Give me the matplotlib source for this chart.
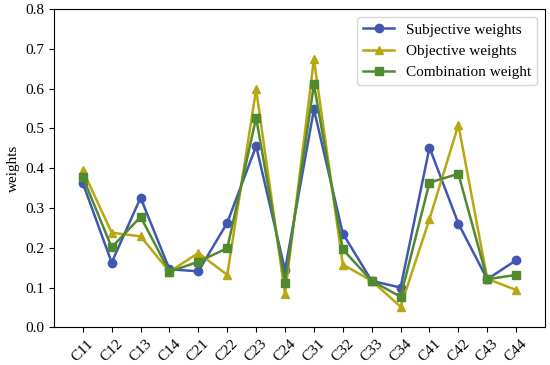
import numpy as np
import matplotlib.pyplot as plt

plt.rcParams['font.family'] = ['Liberation Serif', 'DejaVu Serif']

# indicators
labels = ['C11', 'C12', 'C13', 'C14', 'C21', 'C22', 'C23', 'C24',
          'C31', 'C32', 'C33', 'C34', 'C41', 'C42', 'C43', 'C44']

subjective = [0.363, 0.163, 0.326, 0.146, 0.141, 0.263, 0.456, 0.144,
              0.548, 0.236, 0.117, 0.100, 0.452, 0.261, 0.121, 0.169]
objective = [0.395, 0.238, 0.229, 0.140, 0.187, 0.132, 0.598, 0.084,
             0.674, 0.158, 0.117, 0.052, 0.272, 0.509, 0.122, 0.094]
combination = [0.378, 0.201, 0.278, 0.140, 0.165, 0.199, 0.527, 0.112,
               0.611, 0.196, 0.117, 0.077, 0.364, 0.386, 0.121, 0.132]

x = np.arange(len(labels))

fig = plt.figure(figsize=(5.5, 3.65), dpi=100)
ax = fig.add_axes([0.098, 0.103, 0.893, 0.872])

ax.plot(x, subjective, color='#4257b2', marker='o', markersize=6, lw=1.8, label='Subjective weights')
ax.plot(x, objective, color='#b8a612', marker='^', markersize=6, lw=1.8, label='Objective weights')
ax.plot(x, combination, color='#4f8a2f', marker='s', markersize=6, lw=1.8, label='Combination weight')

ax.set_xlim(-1, 16)
ax.set_ylim(0, 0.8)
ax.set_xticks(x)
ax.set_xticklabels(labels, rotation=45)
ax.set_yticks(np.arange(0, 0.81, 0.1))
ax.tick_params(labelsize=11)
ax.set_ylabel('weights', fontsize=11)
ax.legend(loc='upper right', fontsize=11)

plt.savefig('out.png', dpi=100)
